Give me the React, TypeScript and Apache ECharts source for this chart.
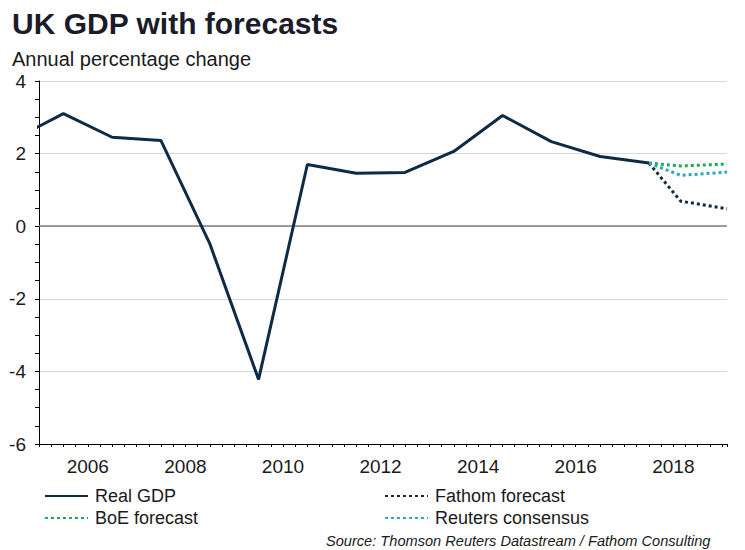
import React, { useEffect, useRef } from "react";
import * as echarts from "echarts";

const gdpYears = [2004.5, 2005.5, 2006.5, 2007.5, 2008.5, 2009.5, 2010.5, 2011.5, 2012.5, 2013.5, 2014.5, 2015.5, 2016.5, 2017.5];
const gdpValues = [2.4, 3.1, 2.45, 2.36, -0.48, -4.22, 1.7, 1.46, 1.48, 2.06, 3.05, 2.33, 1.92, 1.74];

const forecastYears = [2017.5, 2018.15, 2019.1];
const fathomValues = [1.74, 0.69, 0.48];
const boeValues = [1.74, 1.66, 1.71];
const reutersValues = [1.74, 1.4, 1.49];

const seriesNames = ["Real GDP", "Fathom forecast", "BoE forecast", "Reuters consensus"];
const titleText = "UK GDP with forecasts";
const subtitleText = "Annual percentage change";
const sourceText = "Source: Thomson Reuters Datastream / Fathom Consulting";

const NAVY = "#0f2a44";
const GREEN = "#1faa55";
const CYAN = "#2aa6cc";
const FONT = "Liberation Sans, Arial, sans-serif";

function pairs(xs: number[], ys: number[]) {
  return xs.map((x, i) => [x, ys[i]]);
}

export default function App() {
  const ref = useRef<HTMLDivElement>(null);
  useEffect(() => {
    if (!ref.current) return;
    const chart = echarts.init(ref.current, undefined, { renderer: "svg" });
    const dotted = (color: string) => ({ color, width: 3, type: [3, 3] as any, cap: "butt" as const });
    const legendBase = {
      orient: "vertical",
      top: 482,
      itemWidth: 43,
      itemHeight: 10,
      itemGap: 4,
      itemStyle: { opacity: 0 },
      textStyle: { fontSize: 18, color: "#1a1a1a", fontFamily: FONT, padding: [0, 0, 0, 2] },
    };
    chart.setOption({
      animation: false,
      backgroundColor: "#ffffff",
      textStyle: { fontFamily: FONT },
      title: [
        {
          text: titleText,
          left: 7,
          top: 3,
          textStyle: { fontSize: 30, fontWeight: "bold", color: "#1b1b2a", fontFamily: FONT },
        },
        {
          text: subtitleText,
          left: 7,
          top: 44,
          textStyle: { fontSize: 20, fontWeight: "normal", color: "#1a1a1a", fontFamily: FONT },
        },
        {
          text: sourceText,
          left: 321,
          top: 528,
          textStyle: { fontSize: 14.6, fontWeight: "normal", fontStyle: "italic", color: "#1a1a1a", fontFamily: FONT },
        },
      ],
      legend: [
        { ...legendBase, left: 39, data: [seriesNames[0], seriesNames[2]] },
        { ...legendBase, left: 379, data: [seriesNames[1], seriesNames[3]] },
      ],
      grid: { left: 39, right: 18, top: 81, bottom: 106 },
      xAxis: {
        type: "value",
        min: 2005,
        max: 2019.1,
        interval: 1,
        axisLine: { show: true, onZero: false, lineStyle: { color: "#000000", width: 1 } },
        axisTick: { show: true, inside: false, length: 3, lineStyle: { color: "#000" } },
        minorTick: { show: true, splitNumber: 4, length: 3, lineStyle: { color: "#000" } },
        splitLine: { show: false },
        axisLabel: {
          fontSize: 19,
          color: "#1a1a1a",
          margin: 13,
          showMaxLabel: false,
          formatter: (v: number) => (Math.abs(v - Math.round(v)) < 1e-6 && Math.round(v) % 2 === 0 ? String(Math.round(v)) : ""),
        },
      },
      yAxis: {
        type: "value",
        min: -6,
        max: 4,
        interval: 2,
        axisLine: { show: true, onZero: false, lineStyle: { color: "#000000", width: 1 } },
        axisTick: { show: true, inside: false, length: 4, lineStyle: { color: "#000" } },
        minorTick: { show: true, splitNumber: 4, length: 4, lineStyle: { color: "#000" } },
        splitLine: { show: true, lineStyle: { color: "#d9d9d9", width: 1 } },
        axisLabel: { fontSize: 19, color: "#1a1a1a", margin: 13 },
      },
      series: [
        {
          name: seriesNames[0],
          type: "line",
          data: pairs(gdpYears, gdpValues),
          showSymbol: false,
          symbol: "none",
          lineStyle: { color: NAVY, width: 3 },
          itemStyle: { color: NAVY },
          z: 5,
          markLine: {
            silent: true,
            symbol: "none",
            label: { show: false },
            lineStyle: { color: "#7f7f7f", width: 1.5, type: "solid" },
            data: [{ yAxis: 0 }],
            z: 1,
          },
        },
        {
          name: seriesNames[1],
          type: "line",
          data: pairs(forecastYears, fathomValues),
          symbol: "none",
          lineStyle: dotted(NAVY),
          itemStyle: { color: NAVY },
          z: 4,
        },
        {
          name: seriesNames[2],
          type: "line",
          data: pairs(forecastYears, boeValues),
          symbol: "none",
          lineStyle: dotted(GREEN),
          itemStyle: { color: GREEN },
          z: 4,
        },
        {
          name: seriesNames[3],
          type: "line",
          data: pairs(forecastYears, reutersValues),
          symbol: "none",
          lineStyle: dotted(CYAN),
          itemStyle: { color: CYAN },
          z: 4,
        },
      ],
    });
    return () => chart.dispose();
  }, []);
  return <div ref={ref} style={{ width: 745, height: 550, position: "absolute", left: 0, top: 0 }} />;
}
